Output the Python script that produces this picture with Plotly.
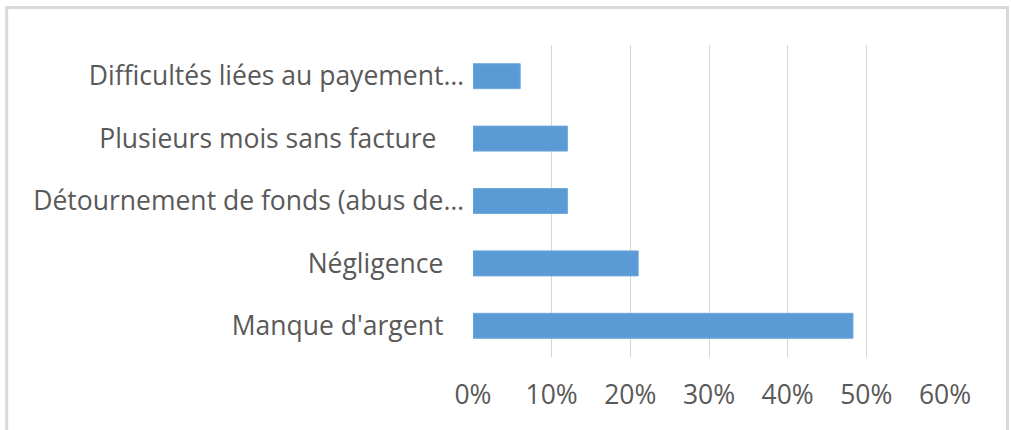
import plotly.graph_objects as go

NB = "\u00a0"

# categories listed bottom to top
categories = [
    "Manque d'argent" + NB * 3,
    "Négligence" + NB * 3,
    "Détournement de fonds (abus de…",
    "Plusieurs mois sans facture" + NB * 4,
    "Difficultés liées au payement…",
]
values = [0.483, 0.21, 0.12, 0.12, 0.06]
x_ticks = [0, 0.1, 0.2, 0.3, 0.4, 0.5, 0.6]
x_ticklabels = ["0%", "10%", "20%", "30%", "40%", "50%", "60%"]

font_family = "Open Sans, Calibri, sans-serif"
text_color = "#595959"
grid_color = "#D6D6D6"

fig = go.Figure()
fig.add_trace(go.Bar(
    x=values,
    y=categories,
    orientation="h",
    width=0.4,
    marker=dict(color="#5B9BD5", line=dict(color="#6FA8DC", width=1)),
    hoverinfo="x+y",
))

fig.update_layout(
    width=1011,
    height=430,
    margin=dict(l=473, r=66, t=45, b=73),
    paper_bgcolor="white",
    plot_bgcolor="white",
    showlegend=False,
    font=dict(family=font_family, size=26.5, color=text_color),
    xaxis=dict(
        range=[0, 0.6],
        tickvals=x_ticks,
        ticktext=x_ticklabels,
        showgrid=True,
        gridcolor=grid_color,
        gridwidth=1.3,
        zeroline=False,
        showline=False,
        ticks="",
        ticklabelstandoff=19,
        fixedrange=True,
    ),
    yaxis=dict(
        showgrid=False,
        zeroline=False,
        showline=False,
        ticks="",
        ticklabelstandoff=8,
        fixedrange=True,
    ),
    shapes=[
        # light outer frame of the chart
        dict(type="rect", xref="paper", yref="paper",
             x0=-0.988, x1=1.1324, y0=-0.3, y1=1.1202,
             line=dict(color="#D9D9D9", width=3), fillcolor="rgba(0,0,0,0)",
             layer="below"),
    ],
)

# drop the default 8px page margin so the figure sits at the window corner
fig.write_html("out.html", config={"displayModeBar": False},
               post_script="document.body.style.margin='0';")
